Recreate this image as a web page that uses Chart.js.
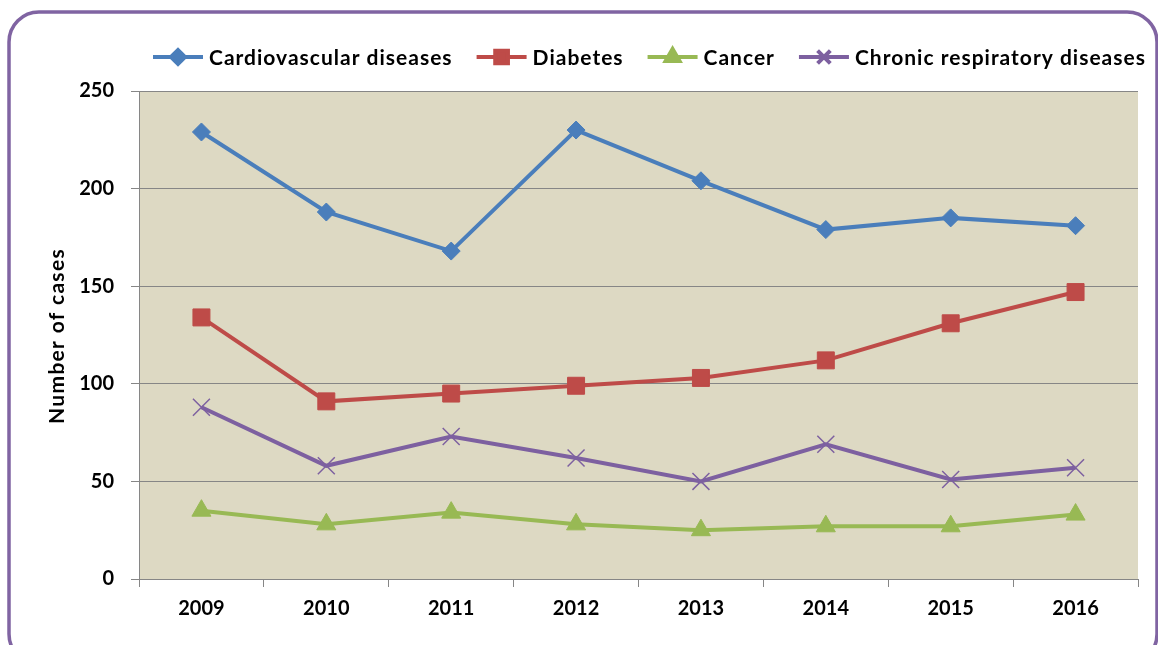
<!DOCTYPE html>
<html>
<head>
<meta charset="utf-8">
<script src="https://cdn.jsdelivr.net/npm/chart.js@4"></script>
<style>
  html, body { margin: 0; padding: 0; background: #ffffff; }
  #wrap { width: 1158px; height: 645px; position: relative; }
</style>
</head>
<body>
<div id="wrap"><canvas id="chart" width="1158" height="645"></canvas></div>
<script>
// Données
const years = ['2009', '2010', '2011', '2012', '2013', '2014', '2015', '2016'];
const cardiovascular = [229, 188, 168, 230, 204, 179, 185, 181];
const diabetes = [134, 91, 95, 99, 103, 112, 131, 147];
const cancer = [35, 28, 34, 28, 25, 27, 27, 33];
const chronicRespiratory = [88, 58, 73, 62, 50, 69, 51, 57];
const yTicks = [0, 50, 100, 150, 200, 250];
const yTitle = 'Number of cases';

const FONT = 'Lato, Carlito, Calibri, sans-serif';

// Cadre violet arrondi + fond de la zone de tracé
const framePlugin = {
    id: 'frame',
    beforeDraw(chart) {
        const ctx = chart.ctx;
        const a = chart.chartArea;
        ctx.save();
        ctx.fillStyle = '#DDD9C3';
        ctx.fillRect(a.left, a.top, a.right - a.left, a.bottom - a.top);
        ctx.strokeStyle = '#8064A2';
        ctx.lineWidth = 3.5;
        ctx.beginPath();
        ctx.roundRect(9, 12, 1148, 652, 30);
        ctx.stroke();
        ctx.restore();
    }
};

// Légende dessinée à la main : trait + petit marqueur + texte, puis titre de l'axe Y
const legendPlugin = {
    id: 'customLegend',
    afterDraw(chart) {
        const ctx = chart.ctx;
        ctx.save();
        ctx.font = 'bold 21px ' + FONT;
        ctx.letterSpacing = '1px';
        ctx.textBaseline = 'middle';
        let x = 153;
        const y = 57;
        chart.data.datasets.forEach(ds => {
            ctx.strokeStyle = ds.borderColor;
            ctx.lineWidth = 4;
            ctx.beginPath();
            ctx.moveTo(x, y);
            ctx.lineTo(x + 50, y);
            ctx.stroke();
            ctx.fillStyle = ds.pointBackgroundColor;
            ctx.strokeStyle = ds.pointBorderColor;
            Chart.helpers.drawPoint(ctx, {
                pointStyle: ds.pointStyle,
                radius: ds.legendRadius,
                borderWidth: ds.pointBorderWidth,
                rotation: 0
            }, x + 25, y);
            ctx.fillStyle = '#000000';
            ctx.fillText(ds.label, x + 56, y + 1);
            x += 56 + ctx.measureText(ds.label).width + 24;
        });

        // titre de l'axe Y
        const a = chart.chartArea;
        ctx.font = 'bold 21px ' + FONT;
        ctx.letterSpacing = '1.3px';
        ctx.textAlign = 'center';
        ctx.translate(57, (a.top + a.bottom) / 2 + 1);
        ctx.rotate(-Math.PI / 2);
        ctx.fillText(yTitle, 0, 0);
        ctx.restore();
    }
};

new Chart(document.getElementById('chart').getContext('2d'), {
    type: 'line',
    data: {
        labels: years,
        datasets: [{
            label: 'Cardiovascular diseases',
            data: cardiovascular,
            borderColor: '#4A7EBB',
            pointBackgroundColor: '#4A7EBB',
            pointBorderColor: '#4A7EBB',
            pointStyle: 'rectRot',
            pointRadius: 9,
            legendRadius: 7,
            pointBorderWidth: 1,
            borderWidth: 4
        }, {
            label: 'Diabetes',
            data: diabetes,
            borderColor: '#BE4B48',
            pointBackgroundColor: '#BE4B48',
            pointBorderColor: '#BE4B48',
            pointStyle: 'rect',
            pointRadius: 12,
            legendRadius: 9,
            pointBorderWidth: 1,
            borderWidth: 4
        }, {
            label: 'Cancer',
            data: cancer,
            borderColor: '#98B954',
            pointBackgroundColor: '#98B954',
            pointBorderColor: '#98B954',
            pointStyle: 'triangle',
            pointRadius: 11,
            legendRadius: 8,
            pointBorderWidth: 1,
            borderWidth: 4
        }, {
            label: 'Chronic respiratory diseases',
            data: chronicRespiratory,
            borderColor: '#7D60A0',
            pointBackgroundColor: '#7D60A0',
            pointBorderColor: '#7D60A0',
            pointStyle: 'crossRot',
            pointRadius: 12,
            legendRadius: 9,
            pointBorderWidth: 1.5,
            borderWidth: 4
        }]
    },
    options: {
        responsive: false,
        animation: false,
        layout: { padding: { top: 91, right: 20, bottom: 0, left: 0 } },
        plugins: {
            legend: { display: false },
            tooltip: { enabled: false }
        },
        elements: { line: { tension: 0 } },
        scales: {
            x: {
                offset: true,
                grid: {
                    offset: true,
                    drawOnChartArea: false,
                    drawTicks: true,
                    tickLength: 8,
                    color: '#868686'
                },
                border: { color: '#868686', width: 1 },
                ticks: {
                    color: '#000000',
                    font: { family: FONT, size: 20, weight: 'bold' },
                    padding: 10,
                    maxRotation: 0
                },
                afterFit: s => { s.height = 66; }
            },
            y: {
                min: 0,
                max: 250,
                afterBuildTicks: s => { s.ticks = yTicks.map(v => ({ value: v })); },
                grid: {
                    color: '#868686',
                    lineWidth: 1,
                    drawTicks: true,
                    tickLength: 8
                },
                border: { color: '#868686', width: 1 },
                ticks: {
                    color: '#000000',
                    font: { family: FONT, size: 20, weight: 'bold' },
                    padding: 17
                },
                afterFit: s => { s.width = 139; }
            }
        }
    },
    plugins: [framePlugin, legendPlugin]
});
</script>
</body>
</html>
